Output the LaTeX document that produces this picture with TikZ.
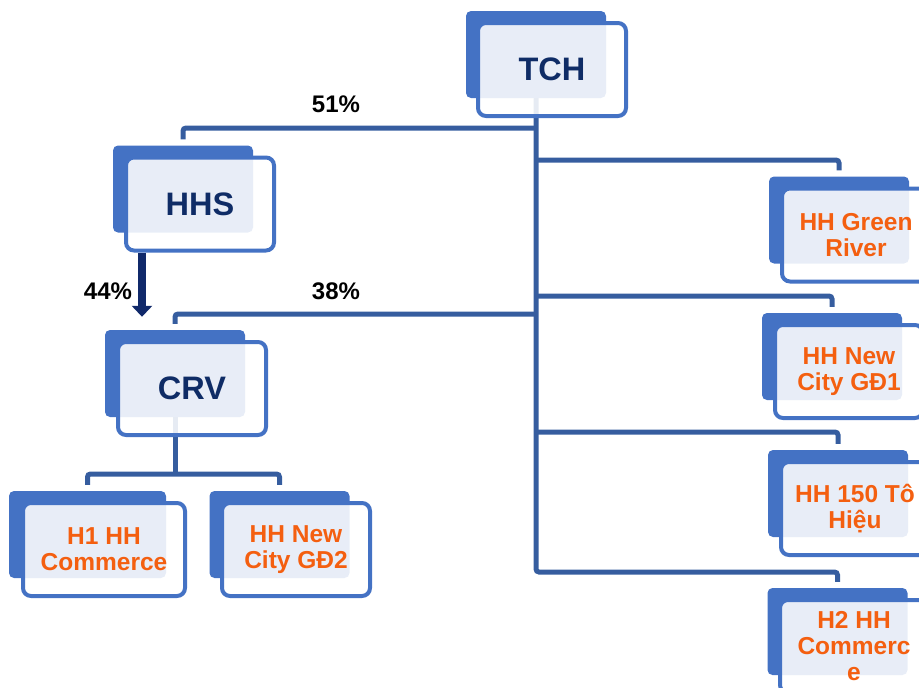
\documentclass[tikz,border=0pt]{standalone}
\usepackage{fontspec}
\setmainfont{Liberation Sans}
\usetikzlibrary{arrows.meta}

\definecolor{boxblue}{HTML}{4472C4}
\definecolor{linkblue}{HTML}{365D9F}
\definecolor{arrownavy}{HTML}{10296A}
\definecolor{namenavy}{HTML}{0F2C66}
\definecolor{unitorange}{HTML}{F45F10}

\tikzset{
	backbox/.style={fill=boxblue, rounded corners=5pt, minimum width=140pt, minimum height=87pt, inner sep=0pt},
	frontbox/.style={fill=white, fill opacity=0.88, text opacity=1, draw=boxblue, line width=4pt, rounded corners=8pt, minimum width=148pt, minimum height=93pt, inner sep=0pt, align=center},
	parentname/.style={text=namenavy, font=\fontsize{32.5}{36}\selectfont\bfseries},
	unitname/.style={text=unitorange, font=\fontsize{24.5}{26}\selectfont\bfseries},
	link/.style={draw=linkblue, line width=5pt, rounded corners=3pt, shorten >=6pt},
	pct/.style={font=\fontsize{24}{26}\selectfont\bfseries},
}

\begin{document}
\begin{tikzpicture}[x=1pt, y=-1pt]

\useasboundingbox (0,0) rectangle (919,688);
\clip (0,0) rectangle (919,688);

% back boxes
\node[backbox] (TCHb) at (536,54.5)	{};
\node[backbox] (HHSb) at (183,189)	{};
\node[backbox] (CRVb) at (175,373.5)	{};
\node[backbox, minimum width=157pt] (H1b) at (87.5,534.5)	{};
\node[backbox] (GD2b) at (279.5,534.5)	{};
\node[backbox] (GRb) at (839,220)	{};
\node[backbox] (GD1b) at (832,356.5)	{};
\node[backbox] (THb) at (838,493.5)	{};
\node[backbox] (H2b) at (837.5,631.5)	{};

% connectors
\draw[link] (TCHb.south) -- (TCHb.south |- 0,572) -| (H2b.north);
\draw[link] (TCHb.south |- 0,128) -| (HHSb.north);
\draw[link] (TCHb.south |- 0,160) -| (GRb.north);
\draw[link] (TCHb.south |- 0,296) -| (GD1b.north);
\draw[link] (TCHb.south |- 0,314) -| (CRVb.north);
\draw[link] (TCHb.south |- 0,432) -| (THb.north);

\draw[link, shorten >=0pt] (CRVb.south) -- (CRVb.south |- 0,474);
\draw[link, shorten <=6pt] (H1b.north) -- (H1b.north |- 0,474) -- (GD2b.north |- 0,474) -- (GD2b.north);

% front boxes
\node[frontbox, parentname] (TCH) at (552,69.5)	{TCH};
\node[frontbox, parentname] (HHS) at (200,204)	{HHS};
\node[frontbox, parentname] (CRV) at (192,388.5)	{CRV};
\node[frontbox, unitname, minimum width=162pt] (H1) at (104,549.5)	{H1 HH\\Commerce};
\node[frontbox, unitname] (GD2) at (296,549.5)	{HH New\\City GĐ2};
\node[frontbox, unitname] (GR) at (856,235)	{HH Green\\River};
\node[frontbox, unitname] (GD1) at (849,371.5)	{HH New\\City GĐ1};
\node[frontbox, unitname] (TH) at (855,508.5)	{HH 150 Tô\\Hiệu};
\node[frontbox, unitname] (H2) at (854,646.5)	{H2 HH\\Commerc\\e};

% 44% arrow
\coordinate (a44) at ([xshift=-58pt]HHS.south);
\coordinate (c44) at ([xshift=-33pt,yshift=13pt]CRVb.north);
\draw[draw=arrownavy, line width=8pt, -{Triangle[width=20pt,length=11pt]}] (a44) -- (c44);

% shares
\node[pct] (p51) at (336,104)	{51\%};
\node[pct] (p38) at (336,291)	{38\%};
\node[pct] (p44) at (108,291)	{44\%};

\end{tikzpicture}
\end{document}
